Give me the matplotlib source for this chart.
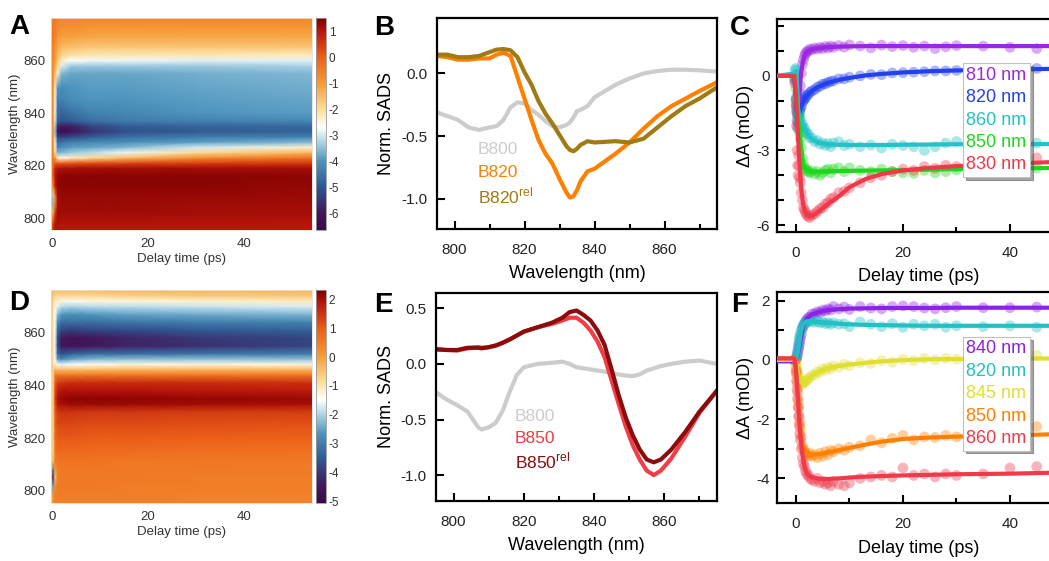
import matplotlib
matplotlib.use("Agg")
import matplotlib.pyplot as plt
import numpy as np
from matplotlib.colors import LinearSegmentedColormap
from matplotlib.lines import Line2D
from matplotlib.ticker import MultipleLocator, FormatStrFormatter

plt.rcParams["font.family"] = ["Liberation Sans", "DejaVu Sans"]
plt.rcParams["mathtext.fontset"] = "custom"
plt.rcParams["mathtext.rm"] = "Liberation Sans"
plt.rcParams["axes.unicode_minus"] = False

# ---------------- heatmaps (A, D) ----------------
t_map = [-0.15, 0.3, 0.7, 1.2, 2, 4, 8, 15, 30, 54]

wl_a = [795, 798, 802, 806, 809, 812, 816, 819, 821, 823, 825, 827, 829, 831,
        833, 835, 837, 840, 845, 850, 855, 858, 860, 862, 865, 869, 873, 876]
sig_a = [
    [-0.3, 0.6, 1.0, 1.0, 0.95, 0.95, 0.95, 0.95, 0.95, 0.95],
    [-0.3, 0.4, 1.0, 1.1, 1.05, 1.05, 1.05, 1.05, 1.05, 1.0],
    [-0.3, -1.5, 0.5, 1.2, 1.2, 1.2, 1.2, 1.2, 1.15, 1.15],
    [-0.3, -3.6, -0.8, 1.1, 1.25, 1.25, 1.25, 1.25, 1.2, 1.2],
    [-0.3, -3.2, -0.5, 1.2, 1.3, 1.3, 1.3, 1.3, 1.3, 1.25],
    [-0.3, -1.0, 0.8, 1.3, 1.35, 1.35, 1.35, 1.35, 1.35, 1.3],
    [-0.3, 0.0, 1.0, 1.3, 1.4, 1.4, 1.4, 1.4, 1.4, 1.35],
    [-0.3, -0.2, 0.8, 1.0, 1.1, 1.1, 1.15, 1.15, 1.15, 1.15],
    [-0.3, -0.4, 0.0, 0.1, 0.0, 0.1, 0.2, 0.3, 0.4, 0.5],
    [-0.4, -0.6, -1.0, -2.3, -2.6, -2.3, -2.0, -1.5, -0.8, -0.3],
    [-0.4, -0.7, -2.0, -3.6, -3.6, -3.4, -3.2, -2.8, -2.0, -1.4],
    [-0.4, -0.8, -2.5, -4.2, -4.1, -3.9, -3.8, -3.6, -3.0, -2.4],
    [-0.4, -0.8, -2.8, -4.6, -4.5, -4.3, -4.2, -4.1, -3.9, -3.6],
    [-0.4, -0.9, -3.2, -5.3, -5.4, -5.2, -4.9, -4.6, -4.4, -4.3],
    [-0.4, -0.9, -3.5, -6.0, -6.4, -6.2, -5.6, -5.1, -4.9, -4.8],
    [-0.4, -0.9, -3.3, -5.6, -6.0, -5.9, -5.3, -4.9, -4.8, -4.7],
    [-0.4, -0.9, -3.0, -4.8, -5.0, -4.9, -4.6, -4.4, -4.3, -4.2],
    [-0.4, -0.9, -2.8, -4.6, -4.8, -4.6, -4.3, -4.2, -4.0, -3.9],
    [-0.4, -0.9, -2.6, -4.3, -4.3, -4.1, -4.0, -4.0, -3.9, -3.8],
    [-0.4, -0.8, -2.3, -3.9, -4.1, -4.0, -3.9, -3.9, -3.8, -3.7],
    [-0.4, -0.8, -1.5, -2.4, -3.6, -3.8, -3.8, -3.8, -3.7, -3.6],
    [-0.4, -0.8, -1.2, -1.9, -2.9, -3.4, -3.4, -3.4, -3.4, -3.3],
    [-0.4, -0.7, -1.0, -1.6, -2.3, -2.7, -2.8, -2.8, -2.9, -2.9],
    [-0.4, -0.7, -0.9, -1.4, -1.9, -2.1, -2.2, -2.2, -2.2, -2.3],
    [-0.4, -0.6, -0.8, -1.2, -1.5, -1.6, -1.7, -1.7, -1.7, -1.7],
    [-0.4, -0.5, -0.6, -0.9, -1.1, -1.1, -1.2, -1.2, -1.2, -1.2],
    [-0.4, -0.5, -0.5, -0.7, -0.8, -0.8, -0.9, -0.9, -0.9, -0.9],
    [-0.4, -0.4, -0.5, -0.6, -0.7, -0.7, -0.7, -0.7, -0.7, -0.7],
]

wl_d = [795, 798, 802, 805, 808, 811, 815, 820, 825, 830, 833, 835, 838, 841,
        844, 846, 848, 850, 852, 855, 858, 861, 864, 867, 870, 872, 874, 876]
sig_d = [
    [0.0, 0.3, 0.5, 0.5, 0.5, 0.5, 0.5, 0.5, 0.45, 0.4],
    [0.0, 0.0, 0.5, 0.5, 0.5, 0.5, 0.5, 0.5, 0.45, 0.45],
    [0.0, -2.5, 0.3, 0.5, 0.55, 0.55, 0.55, 0.5, 0.5, 0.5],
    [0.0, -4.3, -0.5, 0.5, 0.55, 0.55, 0.55, 0.55, 0.5, 0.5],
    [0.0, -3.0, 0.0, 0.5, 0.6, 0.6, 0.6, 0.55, 0.55, 0.5],
    [0.0, -0.5, 0.5, 0.6, 0.65, 0.65, 0.65, 0.6, 0.6, 0.55],
    [0.0, -0.8, 0.6, 0.8, 0.8, 0.8, 0.8, 0.75, 0.7, 0.7],
    [0.0, -0.8, 0.8, 1.0, 1.05, 1.05, 1.0, 1.0, 0.95, 0.9],
    [0.0, -0.8, 0.9, 1.2, 1.25, 1.25, 1.2, 1.2, 1.15, 1.1],
    [0.0, -0.8, 1.0, 1.4, 1.5, 1.5, 1.45, 1.45, 1.4, 1.35],
    [0.0, -0.8, 1.2, 1.8, 2.0, 2.1, 2.1, 2.1, 2.05, 2.0],
    [0.0, -0.8, 1.3, 1.9, 2.1, 2.2, 2.2, 2.2, 2.15, 2.1],
    [0.0, -0.8, 1.2, 1.7, 1.9, 1.9, 1.9, 1.9, 1.85, 1.8],
    [0.0, -0.8, 1.0, 1.4, 1.5, 1.6, 1.6, 1.6, 1.6, 1.55],
    [0.0, -0.8, 0.5, 0.6, 0.6, 0.6, 0.6, 0.6, 0.6, 0.6],
    [0.0, -0.8, -0.2, -0.4, -0.4, -0.4, -0.4, -0.3, -0.3, -0.3],
    [0.0, -1.0, -1.2, -1.5, -1.6, -1.5, -1.4, -1.3, -1.3, -1.3],
    [0.0, -1.0, -1.5, -2.5, -2.8, -2.5, -2.3, -2.2, -2.2, -2.2],
    [0.0, -1.0, -1.6, -3.2, -3.6, -3.4, -3.2, -3.2, -3.1, -3.0],
    [0.0, -1.0, -1.6, -3.6, -4.5, -4.6, -4.5, -4.3, -4.1, -3.8],
    [0.0, -1.0, -1.6, -3.6, -4.5, -4.6, -4.5, -4.3, -4.0, -3.8],
    [0.0, -1.0, -1.5, -3.2, -3.8, -3.9, -3.8, -3.7, -3.5, -3.4],
    [0.0, -1.0, -1.5, -2.7, -3.2, -3.2, -3.2, -3.1, -3.0, -2.9],
    [0.0, -1.0, -1.4, -2.2, -2.6, -2.7, -2.6, -2.5, -2.4, -2.3],
    [0.0, -0.9, -1.3, -1.6, -1.9, -2.0, -1.9, -1.9, -1.8, -1.7],
    [0.0, -0.8, -1.1, -1.2, -1.3, -1.4, -1.3, -1.3, -1.2, -1.1],
    [0.0, -0.6, -0.8, -0.8, -0.8, -0.8, -0.8, -0.7, -0.6, -0.6],
    [0.0, -0.4, -0.4, -0.4, -0.4, -0.4, -0.4, -0.3, -0.3, -0.3],
]

# ---------------- SADS spectra (B, E) ----------------
wl_b = [795, 798, 801, 804, 807, 810, 812, 814, 816, 818, 820, 822, 824, 826,
        828, 830, 832, 833, 834, 835, 836, 838, 840, 843, 846, 850, 854, 858,
        862, 866, 870, 875]
b800_b = [-0.31, -0.34, -0.37, -0.43, -0.45, -0.43, -0.42, -0.37, -0.27, -0.23,
          -0.24, -0.29, -0.33, -0.38, -0.42, -0.43, -0.41, -0.39, -0.35, -0.30,
          -0.29, -0.26, -0.19, -0.14, -0.09, -0.04, 0.0, 0.02, 0.03, 0.03,
          0.025, 0.015]
b820 = [0.14, 0.13, 0.11, 0.11, 0.12, 0.12, 0.15, 0.165, 0.14, -0.03,
        -0.20, -0.37, -0.53, -0.64, -0.72, -0.84, -0.95, -0.99, -0.98, -0.93,
        -0.86, -0.78, -0.76, -0.70, -0.64, -0.55, -0.44, -0.34, -0.26, -0.20,
        -0.14, -0.07]
b820_rel = [0.15, 0.15, 0.13, 0.13, 0.14, 0.17, 0.19, 0.195, 0.185, 0.13,
            0.01, -0.09, -0.22, -0.32, -0.40, -0.49, -0.58, -0.61, -0.62, -0.60,
            -0.57, -0.54, -0.55, -0.545, -0.54, -0.55, -0.52, -0.43, -0.34, -0.26,
            -0.20, -0.11]

wl_e = [795, 798, 801, 804, 807, 808, 810, 812, 814, 816, 818, 820, 824, 828,
        831, 833, 835, 837, 839, 841, 843, 845, 847, 849, 851, 853, 855, 857,
        859, 862, 866, 870, 875]
b800_e = [-0.255, -0.32, -0.37, -0.43, -0.57, -0.59, -0.57, -0.53, -0.42, -0.25,
          -0.10, -0.03, 0.0, 0.01, 0.02, 0.0, -0.03, -0.04, -0.05, -0.06,
          -0.07, -0.08, -0.095, -0.105, -0.11, -0.095, -0.06, -0.04, -0.02, 0.0,
          0.02, 0.03, 0.0]
b850 = [0.135, 0.125, 0.12, 0.14, 0.15, 0.145, 0.15, 0.165, 0.19, 0.22,
        0.255, 0.29, 0.33, 0.36, 0.39, 0.415, 0.415, 0.37, 0.30, 0.20,
        0.06, -0.15, -0.36, -0.56, -0.73, -0.86, -0.96, -1.0, -0.96, -0.85,
        -0.65, -0.44, -0.24]
b850_rel = [0.13, 0.125, 0.125, 0.145, 0.145, 0.14, 0.15, 0.165, 0.19, 0.22,
            0.255, 0.29, 0.33, 0.37, 0.415, 0.465, 0.48, 0.44, 0.39, 0.30,
            0.17, -0.05, -0.28, -0.48, -0.64, -0.77, -0.86, -0.885, -0.86, -0.77,
            -0.61, -0.43, -0.24]

# ---------------- kinetics (C, F) ----------------
t_dots = [-0.2, 0.0, 0.1, 0.2, 0.3, 0.4, 0.5, 0.6, 0.7, 0.8, 1.0, 1.2, 1.4, 1.6,
          1.8, 2.0, 2.3, 2.6, 3.0, 3.5, 4.0, 4.5, 5.0, 5.5, 6.0, 6.5, 7.0, 8.0,
          9.0, 10, 12, 14, 16, 18, 20, 22, 24, 26, 28, 30, 35, 40, 45]
t_fit = [-3.6, -0.3, 0.0, 0.2, 0.4, 0.6, 0.8, 1.0, 1.3, 1.6, 2.0, 2.5, 3.0, 4.0,
         5.0, 6.0, 8.0, 10, 13, 16, 20, 25, 30, 40, 50]

labels_c = ["810 nm", "820 nm", "860 nm", "850 nm", "830 nm"]
colors_c = ["#9b27e0", "#2340ee", "#22c2c6", "#1fd61f", "#f0384a"]
dots_c = [
    [-0.1, -0.9, -1.2, -1.5, -1.6, -1.4, -1.2, -0.95, -0.7, -0.4, 0.1, 0.45, 0.65, 0.8,
     0.9, 0.97, 1.0, 1.08, 1.05, 1.12, 1.08, 1.15, 1.1, 1.18, 1.12, 1.2, 1.15, 1.22,
     1.16, 1.25, 1.2, 1.13, 1.24, 1.18, 1.22, 1.15, 1.2, 1.1, 1.17, 1.22, 1.2, 1.15, 1.1],
    [-0.2, -1.0, -1.4, -1.8, -2.1, -1.9, -1.6, -1.5, -1.4, -1.3, -1.25, -1.05, -1.0, -0.92,
     -0.88, -0.78, -0.75, -0.66, -0.6, -0.55, -0.45, -0.42, -0.33, -0.32, -0.26, -0.22, -0.2, -0.12,
     -0.12, -0.05, 0.0, 0.06, 0.05, 0.12, 0.13, 0.15, 0.17, 0.2, 0.2, 0.22, 0.22, 0.25, 0.3],
    [0.25, 0.3, 0.2, -0.1, -0.7, -1.2, -1.4, -1.55, -1.7, -1.7, -1.9, -1.95, -2.1, -2.1,
     -2.25, -2.3, -2.35, -2.5, -2.5, -2.65, -2.6, -2.75, -2.7, -2.8, -2.72, -2.85, -2.7, -2.65,
     -2.8, -2.75, -2.85, -2.78, -2.9, -2.75, -2.8, -2.85, -3.0, -2.85, -2.7, -2.64, -2.8, -2.7, -2.7],
    [-0.1, -0.5, -0.9, -1.2, -1.4, -1.6, -1.8, -2.1, -2.3, -2.55, -2.9, -3.3, -3.55, -3.7,
     -3.75, -3.8, -3.85, -3.9, -3.82, -3.95, -3.85, -4.0, -3.9, -3.8, -3.75, -3.9, -3.75, -3.7,
     -3.85, -3.7, -3.8, -3.85, -3.75, -3.85, -3.9, -3.92, -3.8, -3.9, -3.85, -3.78, -3.8, -3.75, -3.7],
    [-0.3, -1.2, -2.0, -3.0, -3.6, -4.0, -3.2, -3.6, -4.1, -4.3, -4.7, -5.0, -5.3, -5.4,
     -5.5, -5.6, -5.65, -5.7, -5.6, -5.55, -5.45, -5.35, -5.3, -5.15, -5.1, -4.95, -4.9, -4.7,
     -4.65, -4.5, -4.3, -4.1, -4.0, -3.85, -3.75, -3.8, -3.65, -3.72, -3.6, -3.65, -3.5, -3.55, -3.3],
]
fits_c = [
    [0, 0, -0.8, -1.45, -1.55, -1.0, -0.3, 0.2, 0.57, 0.8, 0.95, 1.03, 1.07, 1.11,
     1.14, 1.16, 1.18, 1.19, 1.2, 1.2, 1.2, 1.2, 1.2, 1.2, 1.2],
    [0, 0, -0.9, -1.5, -1.65, -1.55, -1.35, -1.2, -1.05, -0.95, -0.8, -0.7, -0.6, -0.46,
     -0.36, -0.28, -0.16, -0.08, 0.02, 0.08, 0.14, 0.19, 0.22, 0.26, 0.29],
    [0, 0.1, 0.2, -0.3, -1.3, -1.6, -1.75, -1.85, -1.97, -2.1, -2.3, -2.45, -2.55, -2.66,
     -2.72, -2.75, -2.77, -2.78, -2.78, -2.78, -2.77, -2.76, -2.75, -2.75, -2.74],
    [0, 0, -0.7, -1.2, -1.6, -2.1, -2.5, -2.9, -3.5, -3.7, -3.78, -3.82, -3.84, -3.85,
     -3.85, -3.84, -3.83, -3.82, -3.81, -3.8, -3.79, -3.77, -3.75, -3.72, -3.7],
    [0, 0, -0.8, -1.6, -2.5, -3.3, -4.0, -4.6, -5.1, -5.4, -5.58, -5.65, -5.63, -5.5,
     -5.33, -5.15, -4.85, -4.48, -4.15, -3.95, -3.8, -3.7, -3.63, -3.53, -3.45],
]

labels_f = ["840 nm", "820 nm", "845 nm", "850 nm", "860 nm"]
colors_f = ["#8c22e6", "#20c0c4", "#e0de30", "#ff8000", "#f03a4c"]
dots_f = [
    [-0.05, 0.0, 0.05, 0.1, 0.2, 0.3, 0.4, 0.5, 0.6, 0.72, 0.85, 1.05, 1.15, 1.22,
     1.3, 1.35, 1.42, 1.45, 1.55, 1.55, 1.62, 1.6, 1.68, 1.65, 1.72, 1.68, 1.8, 1.72,
     1.78, 1.7, 1.8, 1.75, 1.72, 1.8, 1.82, 1.8, 1.75, 1.72, 1.76, 1.8, 1.76, 1.76, 1.78],
    [0.0, 0.05, 0.1, 0.2, 0.3, 0.45, 0.55, 0.7, 0.8, 0.9, 1.0, 1.1, 1.18, 1.22,
     1.25, 1.3, 1.28, 1.33, 1.3, 1.27, 1.3, 1.25, 1.28, 1.22, 1.25, 1.2, 1.25, 1.2,
     1.22, 1.12, 1.28, 1.2, 1.12, 1.22, 1.1, 1.2, 1.15, 1.2, 1.1, 1.15, 1.12, 1.15, 1.1],
    [0.0, -0.1, -0.15, -0.3, -0.4, -0.5, -0.6, -0.65, -0.7, -0.75, -0.8, -0.85, -0.78, -0.75,
     -0.72, -0.7, -0.62, -0.6, -0.52, -0.5, -0.4, -0.42, -0.3, -0.35, -0.25, -0.3, -0.2, -0.25,
     -0.15, -0.2, -0.1, -0.12, -0.02, -0.08, 0.02, -0.03, 0.05, 0.0, 0.05, 0.02, 0.05, 0.02, 0.15],
    [0.0, -0.3, -0.5, -0.8, -1.1, -1.4, -1.6, -1.9, -2.1, -2.3, -2.6, -2.9, -3.0, -3.1,
     -3.15, -3.2, -3.25, -3.15, -3.25, -3.2, -3.3, -3.15, -3.25, -3.1, -3.2, -3.05, -3.1, -3.0,
     -3.05, -2.95, -2.9, -2.7, -2.8, -2.65, -2.55, -2.7, -2.6, -2.62, -2.55, -2.6, -2.6, -2.55, -2.25],
    [0.0, -0.4, -0.7, -1.0, -1.3, -1.6, -1.9, -2.2, -2.5, -2.7, -3.0, -3.3, -3.5, -3.6,
     -3.75, -3.85, -3.9, -4.0, -4.05, -4.1, -4.0, -4.15, -4.1, -4.2, -4.15, -4.25, -4.1, -4.2,
     -4.25, -4.15, -4.0, -3.95, -3.9, -3.95, -3.65, -3.9, -3.85, -3.95, -3.85, -3.9, -3.85, -3.65, -3.6],
]
fits_f = [
    [-0.05, -0.05, 0, 0.05, 0.2, 0.4, 0.6, 0.8, 1.1, 1.25, 1.38, 1.47, 1.53, 1.6,
     1.65, 1.68, 1.71, 1.73, 1.74, 1.75, 1.75, 1.75, 1.76, 1.76, 1.76],
    [0, 0, 0.0, 0.1, 0.3, 0.55, 0.8, 1.0, 1.17, 1.25, 1.3, 1.31, 1.3, 1.28,
     1.26, 1.25, 1.22, 1.2, 1.18, 1.17, 1.16, 1.15, 1.15, 1.15, 1.15],
    [0, 0, -0.1, -0.3, -0.45, -0.6, -0.7, -0.77, -0.8, -0.78, -0.72, -0.62, -0.53, -0.42,
     -0.34, -0.28, -0.21, -0.16, -0.1, -0.05, -0.01, 0.02, 0.03, 0.04, 0.05],
    [0.05, 0.05, -0.3, -0.8, -1.2, -1.75, -2.2, -2.55, -2.95, -3.12, -3.18, -3.2, -3.2, -3.18,
     -3.16, -3.12, -3.05, -2.97, -2.86, -2.76, -2.67, -2.62, -2.59, -2.55, -2.5],
    [0.05, 0.05, -0.3, -0.9, -1.4, -2.0, -2.5, -2.85, -3.3, -3.6, -3.82, -3.92, -3.96, -4.0,
     -4.02, -4.02, -4.0, -3.97, -3.94, -3.92, -3.9, -3.88, -3.86, -3.84, -3.8],
]

# diverging map: purple - blue - white - yellow - orange - dark red
cmap = LinearSegmentedColormap.from_list("tamap", [
    (0.0, "#3a0a48"), (0.08, "#43185c"), (0.2, "#2f5690"), (0.325, "#4b94bd"),
    (0.42, "#b4d9e8"), (0.485, "#ffffff"), (0.56, "#fde2a0"), (0.693, "#f69a35"),
    (0.816, "#ec5f18"), (0.94, "#b8150a"), (1.0, "#7e0000")])

W, H = 1049, 561
fig = plt.figure(figsize=(W / 100, H / 100), dpi=100)


def px_axes(x0, y0, x1, y1):
    return fig.add_axes([x0 / W, 1 - y1 / H, (x1 - x0) / W, (y1 - y0) / H])


def draw_map(box, cbox, wl, sig, vmin, vmax, cticks):
    ax = px_axes(*box)
    tt, ww = np.meshgrid(t_map, wl)
    mesh = ax.pcolormesh(tt, ww, np.array(sig), cmap=cmap, vmin=vmin, vmax=vmax,
                         shading="gouraud", rasterized=True)
    ax.set_xlim(-0.15, 54)
    ax.set_ylim(795.5, 876.2)
    ax.set_xticks([0, 20, 40])
    ax.set_yticks([800, 820, 840, 860])
    ax.tick_params(length=0, labelsize=9.5, colors="#333333", pad=4)
    ax.tick_params(axis="x", pad=6)
    for s in ax.spines.values():
        s.set_color("#e0e0e0")
        s.set_linewidth(0.6)
    ax.set_xlabel("Delay time (ps)", fontsize=9.5, color="#333333", labelpad=2)
    ax.set_ylabel("Wavelength (nm)", fontsize=9.5, color="#333333", labelpad=2)
    cax = px_axes(*cbox)
    cb = fig.colorbar(mesh, cax=cax)
    cb.set_ticks(cticks)
    cb.ax.tick_params(length=0, labelsize=8.5, colors="#333333", pad=2)
    cb.outline.set_edgecolor("#999999")
    cb.outline.set_linewidth(0.6)


def style_box(ax):
    for s in ax.spines.values():
        s.set_linewidth(1.6)
        s.set_color("black")
    ax.tick_params(which="both", direction="in", width=1.5, labelsize=11,
                   colors="black", labelcolor="#222222", top=False, right=False)
    ax.tick_params(which="major", length=6)
    ax.tick_params(which="minor", length=3.5)
    ax.tick_params(axis="x", which="both", pad=10)
    ax.tick_params(axis="y", which="both", pad=7)


def draw_sads(box, wl, curves, colors, names, ylim, yticks, text_pos):
    ax = px_axes(*box)
    for y, c in zip(curves, colors):
        ax.plot(wl, y, color=c, lw=3, solid_joinstyle="round")
    ax.set_xlim(795, 875)
    ax.set_ylim(*ylim)
    ax.set_xticks([800, 820, 840, 860])
    ax.xaxis.set_minor_locator(MultipleLocator(10))
    ax.set_yticks(yticks)
    ax.yaxis.set_major_formatter(FormatStrFormatter("%.1f"))
    style_box(ax)
    ax.set_xlabel("Wavelength (nm)", fontsize=13, labelpad=6)
    ax.set_ylabel("Norm. SADS", fontsize=13)
    ax.yaxis.set_label_coords((395 - box[0]) / (box[2] - box[0]), 0.5)
    x0, ys = text_pos
    for name, c, yy in zip(names, colors, ys):
        ax.text(x0, yy, name, color=c, fontsize=12.5, transform=ax.transAxes,
                va="center", ha="left")
    return ax


def draw_kin(box, dots, fits, colors, labels, ylim, ymaj, leg_y):
    ax = px_axes(*box)
    for d, c in zip(dots, colors):
        ax.scatter(t_dots, d, s=60, color=c, alpha=0.38, edgecolors="none", zorder=2)
    for f, c in zip(fits, colors):
        ax.plot(t_fit, f, color=c, lw=3, zorder=3)
    ax.set_xlim(-3.6, 49.5)
    ax.set_ylim(*ylim)
    ax.set_xticks([0, 20, 40])
    ax.xaxis.set_minor_locator(MultipleLocator(10))
    ax.yaxis.set_major_locator(MultipleLocator(ymaj))
    ax.yaxis.set_minor_locator(MultipleLocator(1))
    style_box(ax)
    ax.tick_params(axis="y", which="major", pad=5)
    ax.tick_params(which="minor", axis="y", length=5)
    ax.set_xlabel("Delay time (ps)", fontsize=13, labelpad=6)
    ax.set_ylabel("ΔA (mOD)", fontsize=13)
    ax.yaxis.set_label_coords((754 - box[0]) / (box[2] - box[0]), 0.5)
    handles = [Line2D([], [], linestyle="none") for _ in labels]
    leg = ax.legend(handles, labels, loc="upper left", bbox_to_anchor=(0.655, leg_y),
                    handlelength=0, handletextpad=0, labelcolor=colors, fontsize=13,
                    labelspacing=0.3, borderpad=0.2, borderaxespad=0,
                    frameon=True, fancybox=False, shadow=True, framealpha=1)
    leg.get_frame().set_edgecolor("#c0c0c0")
    leg.get_frame().set_linewidth(0.8)
    leg.set_zorder(5)
    return ax


# A / D heatmaps
draw_map((51, 18, 312, 230), (316, 18, 326, 230), wl_a, sig_a, -6.65, 1.5,
         [1, 0, -1, -2, -3, -4, -5, -6])
draw_map((51, 290, 312, 502.7), (316, 290, 326, 502.7), wl_d, sig_d, -5.05, 2.33,
         [2, 1, 0, -1, -2, -3, -4, -5])

# B / E spectra
draw_sads((437, 18.3, 717, 229), wl_b, [b800_b, b820, b820_rel],
          ["#cccccc", "#ff8000", "#a07a12"],
          ["B800", "B820", "B820$^{\\mathrm{rel}}$"],
          (-1.24, 0.44), [0.0, -0.5, -1.0], (0.146, [0.375, 0.27, 0.157]))
draw_sads((436, 292.7, 717, 500.7), wl_e, [b800_e, b850, b850_rel],
          ["#cccccc", "#f23c46", "#8a0c0c"],
          ["B800", "B850", "B850$^{\\mathrm{rel}}$"],
          (-1.23, 0.64), [0.5, 0.0, -0.5, -1.0], (0.281, [0.407, 0.30, 0.188]))

# C / F kinetics
draw_kin((776.7, 19, 1060.8, 232), dots_c, fits_c, colors_c, labels_c,
         (-6.28, 2.29), 3, 0.793)
draw_kin((776.7, 291.7, 1060.8, 503.3), dots_f, fits_f, colors_f, labels_f,
         (-4.84, 2.30), 2, 0.787)

# panel letters
for letter, x, y in [("A", 9, 14), ("B", 374, 15), ("C", 730, 15),
                     ("D", 9, 290), ("E", 374, 292), ("F", 731, 292)]:
    fig.text(x / W, 1 - y / H, letter, fontsize=20, fontweight="bold", va="top", ha="left")

fig.savefig("out.png", dpi=100)
plt.close(fig)
